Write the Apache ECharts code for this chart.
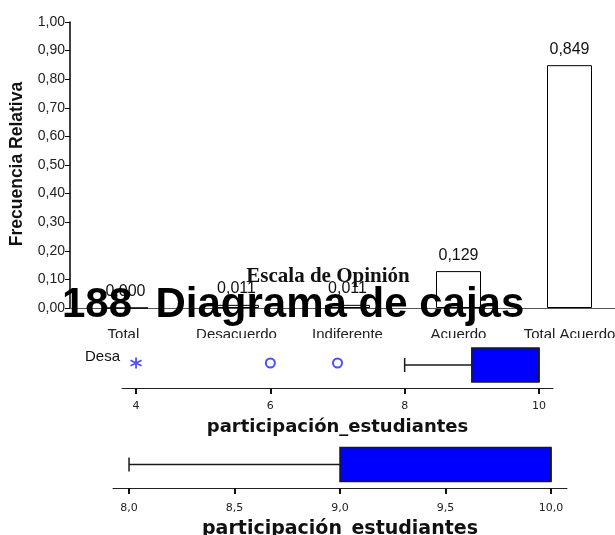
<!DOCTYPE html>
<html>
<head>
<meta charset="utf-8">
<script src="https://cdn.jsdelivr.net/npm/echarts@6/dist/echarts.min.js"></script>
<style>
  html, body { margin: 0; padding: 0; background: #fff; }
  #chart { width: 615px; height: 535px; }
</style>
</head>
<body>
<div id="chart"></div>
<script>
// bar chart data
const categories = ['Total Desacuerdo', 'Desacuerdo', 'Indiferente', 'Acuerdo', 'Total Acuerdo']
const relFreq = [0.000, 0.011, 0.011, 0.129, 0.849]

// box plot 1: whisker low, Q1, median, Q3, whisker high
const box1Stats = [8, 9, 10, 10, 10]
const box1Outliers = [6, 7]
const box1Extremes = [4]
const box1Ticks = [4, 6, 8, 10]

// box plot 2
const box2Stats = [8, 9, 10, 10, 10]
const box2Ticks = [8, 8.5, 9, 9.5, 10]

const boxAxisName = 'participación_estudiantes'

const sans = '"Liberation Sans", Arial, sans-serif'
const comma = (v, d) => v.toFixed(d).replace('.', ',')

function renderBox(params, api) {
  const cat = api.value(0)
  const lo = api.coord([api.value(1), cat])
  const q1 = api.coord([api.value(2), cat])
  const med = api.coord([api.value(3), cat])
  const q3 = api.coord([api.value(4), cat])
  const hi = api.coord([api.value(5), cat])
  const y = lo[1]
  const h = 17
  const cap = 7
  const ls = { stroke: '#1a1a1a', lineWidth: 1.5 }
  return {
    type: 'group',
    children: [
      { type: 'line', shape: { x1: lo[0], y1: y, x2: q1[0], y2: y }, style: ls },
      { type: 'line', shape: { x1: lo[0], y1: y - cap, x2: lo[0], y2: y + cap }, style: ls },
      { type: 'line', shape: { x1: q3[0], y1: y, x2: hi[0], y2: y }, style: ls },
      {
        type: 'rect',
        shape: { x: q1[0], y: y - h, width: q3[0] - q1[0], height: 2 * h },
        style: { fill: '#0000ff', stroke: '#1a1a1a', lineWidth: 1.5 }
      },
      { type: 'line', shape: { x1: med[0], y1: y - h, x2: med[0], y2: y + h }, style: ls }
    ]
  }
}

function boxXAxis(gridIndex, min, max, ticks, decimals, labelMargin, nameGap, nameSize) {
  return {
    type: 'value',
    gridIndex,
    min,
    max,
    z: 60,
    splitLine: { show: false },
    axisLine: { show: true, onZero: false, lineStyle: { color: '#222', width: 1 } },
    axisTick: { show: true, customValues: ticks, length: 6, lineStyle: { color: '#111', width: 2 } },
    axisLabel: {
      customValues: ticks,
      margin: labelMargin,
      color: '#222',
      fontFamily: 'DejaVu Sans',
      fontSize: 11,
      formatter: (v) => comma(v, decimals)
    },
    name: boxAxisName,
    nameLocation: 'middle',
    nameGap,
    nameTextStyle: { fontFamily: 'DejaVu Sans', fontWeight: 'bold', fontSize: nameSize, color: '#111' }
  }
}

function boxYAxis(gridIndex) {
  return {
    type: 'category',
    gridIndex,
    data: [''],
    z: 60,
    axisLine: { show: false },
    axisTick: { show: false },
    axisLabel: { show: false }
  }
}

const asterisk = 'path://M0,-5L0,5M-4.3,-2.5L4.3,2.5M-4.3,2.5L4.3,-2.5'

const option = {
  backgroundColor: '#fff',
  animation: false,
  grid: [
    { left: 70, top: 22, width: 555, height: 286, outerBoundsMode: 'none', containLabel: false },
    { left: 122, top: 342, width: 431, height: 46, outerBoundsMode: 'none', containLabel: false },
    { left: 113, top: 441, width: 454, height: 47, outerBoundsMode: 'none', containLabel: false }
  ],
  xAxis: [
    {
      type: 'category',
      gridIndex: 0,
      data: categories,
      axisLine: { lineStyle: { color: '#555', width: 1 } },
      axisTick: { show: false },
      axisLabel: {
        interval: 0,
        margin: 19,
        color: '#222',
        fontFamily: sans,
        fontSize: 15,
        width: 100,
        overflow: 'break',
        hideOverlap: false
      }
    },
    boxXAxis(1, 3.791, 10.209, box1Ticks, 0, 13, 30, 18),
    boxXAxis(2, 7.924, 10.076, box2Ticks, 1, 15, 32, 19)
  ],
  yAxis: [
    {
      type: 'value',
      gridIndex: 0,
      min: 0,
      max: 1,
      interval: 0.1,
      splitLine: { show: false },
      axisLine: { show: true, lineStyle: { color: '#000', width: 1.5 } },
      axisTick: { show: true, length: 5, lineStyle: { color: '#000' } },
      axisLabel: {
        margin: 5,
        color: '#222',
        fontFamily: sans,
        fontSize: 14,
        formatter: (v) => comma(v, 2)
      }
    },
    boxYAxis(1),
    boxYAxis(2)
  ],
  graphic: [
    {
      type: 'text',
      x: 17,
      y: 164,
      rotation: Math.PI / 2,
      z: 10,
      style: {
        text: 'Frecuencia Relativa',
        font: 'bold 17.5px "Liberation Sans", Arial, sans-serif',
        fill: '#111',
        align: 'center',
        verticalAlign: 'middle',
        textAlign: 'center',
        textVerticalAlign: 'middle'
      }
    },
    {
      type: 'text',
      x: 328,
      y: 277,
      z: 10,
      style: {
        text: 'Escala de Opinión',
        font: 'bold 21px "Liberation Serif", "Times New Roman", serif',
        fill: '#111',
        align: 'center',
        verticalAlign: 'middle',
        textAlign: 'center',
        textVerticalAlign: 'middle'
      }
    },
    {
      type: 'text',
      x: 62,
      y: 305,
      z: 20,
      style: {
        text: '188  Diagrama de cajas',
        font: 'bold 42px "Liberation Sans", Arial, sans-serif',
        fill: '#000',
        align: 'left',
        verticalAlign: 'middle',
        textAlign: 'left',
        textVerticalAlign: 'middle'
      }
    },
    {
      type: 'rect',
      z: 50,
      shape: { x: 0, y: 338, width: 615, height: 197 },
      style: { fill: '#fff' }
    },
    {
      type: 'text',
      x: 85,
      y: 357,
      z: 55,
      style: {
        text: 'Desa',
        font: '15px "Liberation Sans", Arial, sans-serif',
        fill: '#111',
        align: 'left',
        verticalAlign: 'middle',
        textAlign: 'left',
        textVerticalAlign: 'middle'
      }
    }
  ],
  series: [
    {
      type: 'bar',
      xAxisIndex: 0,
      yAxisIndex: 0,
      data: relFreq,
      barWidth: 45,
      itemStyle: { color: '#fff', borderColor: '#000', borderWidth: 1 },
      label: {
        show: true,
        position: 'top',
        distance: 8,
        color: '#111',
        fontFamily: sans,
        fontSize: 16,
        formatter: (p) => comma(p.value, 3)
      }
    },
    {
      type: 'custom',
      xAxisIndex: 1,
      yAxisIndex: 1,
      z: 60,
      renderItem: renderBox,
      encode: { x: [1, 2, 3, 4, 5], y: 0 },
      data: [[0, ...box1Stats]]
    },
    {
      type: 'scatter',
      xAxisIndex: 1,
      yAxisIndex: 1,
      z: 61,
      symbol: 'emptyCircle',
      symbolSize: 9,
      symbolOffset: [0, -2],
      itemStyle: { color: '#2222ff', borderColor: '#2222ff', borderWidth: 1.5 },
      data: box1Outliers.map((v) => [v, 0])
    },
    {
      type: 'scatter',
      xAxisIndex: 1,
      yAxisIndex: 1,
      z: 61,
      symbol: asterisk,
      symbolSize: 11,
      symbolOffset: [0, -2],
      itemStyle: { color: 'none', borderColor: '#2222ff', borderWidth: 1.8 },
      data: box1Extremes.map((v) => [v, 0])
    },
    {
      type: 'custom',
      xAxisIndex: 2,
      yAxisIndex: 2,
      z: 60,
      renderItem: renderBox,
      encode: { x: [1, 2, 3, 4, 5], y: 0 },
      data: [[0, ...box2Stats]]
    }
  ]
}

const chart = echarts.init(document.getElementById('chart'), undefined, { renderer: 'canvas' })
chart.setOption(option)
</script>
</body>
</html>
